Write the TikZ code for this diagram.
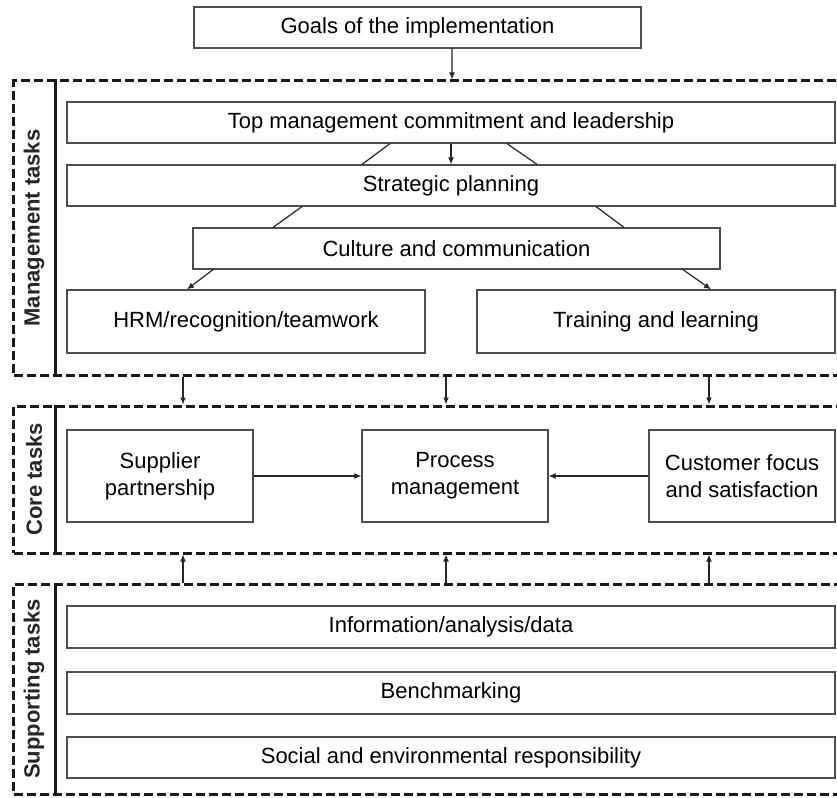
\documentclass[tikz,border=0pt]{standalone}
\usepackage{fontspec}
\setmainfont{Liberation Sans}
\usetikzlibrary{arrows.meta,positioning,calc}
\begin{document}
\begin{tikzpicture}[x=1bp,y=-1bp,
  every node/.style={font=\fontsize{22bp}{27bp}\selectfont},
  box/.style={draw=black!70, line width=1.2bp, fill=white, inner sep=0pt, align=center},
  grp/.style={draw=black!90, line width=3bp, dash pattern=on 9bp off 4bp, inner sep=0pt, minimum width=836bp},
  lbl/.style={rotate=90, font=\fontsize{22bp}{26bp}\selectfont\bfseries, text=black!85},
  conn/.style={draw=black!85, line width=1.2bp},
  arr/.style={conn, -{Latex[length=7bp,width=6bp]}},
  sep/.style={draw=black!90, line width=3bp}
]
\useasboundingbox (0,0) rectangle (837,798);
\clip (0,0) rectangle (837,798);
\fill[white] (0,0) rectangle (837,798);

% groups
\node[grp, minimum height=294bp] (mgmt) at (432,228) {};
\node[grp, minimum height=147bp] (core) at (432,479.5) {};
\node[grp, minimum height=210bp] (supt) at (432,689) {};
\draw[sep] ([xshift=43bp]mgmt.north west) -- ([xshift=43bp]mgmt.south west);
\draw[sep] ([xshift=43bp]core.north west) -- ([xshift=43bp]core.south west);
\draw[sep] ([xshift=43bp]supt.north west) -- ([xshift=43bp]supt.south west);
\node[lbl] (lm) at ([xshift=21.5bp]mgmt.west) {Management tasks};
\node[lbl] (lc) at ([xshift=21.5bp]core.west) {Core tasks};
\node[lbl] (ls) at ([xshift=21.5bp]supt.west) {Supporting tasks};

% boxes
\node[box, minimum width=447bp, minimum height=41bp] (goals) at (417.5,27.5) {Goals of the implementation};
\node[box, minimum width=768bp, minimum height=41bp] (top) at (451,122.5) {Top management commitment and leadership};
\node[box, minimum width=768bp, minimum height=41bp] (strat) at (451,185.5) {Strategic planning};
\node[box, minimum width=527bp, minimum height=41bp] (cult) at (456.5,248.5) {Culture and communication};
\node[box, minimum width=358bp, minimum height=63bp] (hrm) at (246,321.5) {HRM/recognition/teamwork};
\node[box, minimum width=358bp, minimum height=63bp] (train) at (656,321.5) {Training and learning};

\node[box, minimum width=186bp, minimum height=92bp] (supp) at (160,476) {Supplier\\partnership};
\node[box, minimum width=186bp, minimum height=92bp] (proc) at (455,476) {Process\\management};
\node[box, minimum width=186bp, minimum height=92bp] (cust) at (742,476) {Customer focus\\and satisfaction};

\node[box, minimum width=768bp, minimum height=42bp] (info) at (451,627) {Information/analysis/data};
\node[box, minimum width=768bp, minimum height=42bp] (bench) at (451,693) {Benchmarking};
\node[box, minimum width=768bp, minimum height=41bp] (soc) at (451,757.5) {Social and environmental responsibility};

% connectors
\draw[arr] ([xshift=34.5bp]goals.south) -- ([xshift=20bp]mgmt.north);
\draw[conn] ([xshift=-61bp]top.south) -- ([xshift=-89bp]strat.north);
\draw[arr] (top.south) -- (strat.north);
\draw[conn] ([xshift=56bp]top.south) -- ([xshift=86bp]strat.north);
\draw[conn] ([xshift=-149bp]strat.south) -- ([xshift=-183.5bp]cult.north);
\draw[conn] ([xshift=145bp]strat.south) -- ([xshift=167.5bp]cult.north);
\draw[arr] ([xshift=-243.5bp]cult.south) -- ([xshift=-59bp]hrm.north);
\draw[arr] ([xshift=226.5bp]cult.south) -- ([xshift=55bp]train.north);

\draw[arr] ([xshift=-249bp]mgmt.south) -- ([xshift=-249bp]core.north);
\draw[arr] ([xshift=14bp]mgmt.south) -- ([xshift=14bp]core.north);
\draw[arr] ([xshift=277bp]mgmt.south) -- ([xshift=277bp]core.north);

\draw[arr] ([xshift=-249bp]supt.north) -- ([xshift=-249bp]core.south);
\draw[arr] ([xshift=14bp]supt.north) -- ([xshift=14bp]core.south);
\draw[arr] ([xshift=277bp]supt.north) -- ([xshift=277bp]core.south);

\draw[arr] (supp.east) -- (proc.west);
\draw[arr] (cust.west) -- (proc.east);
\end{tikzpicture}
\end{document}
